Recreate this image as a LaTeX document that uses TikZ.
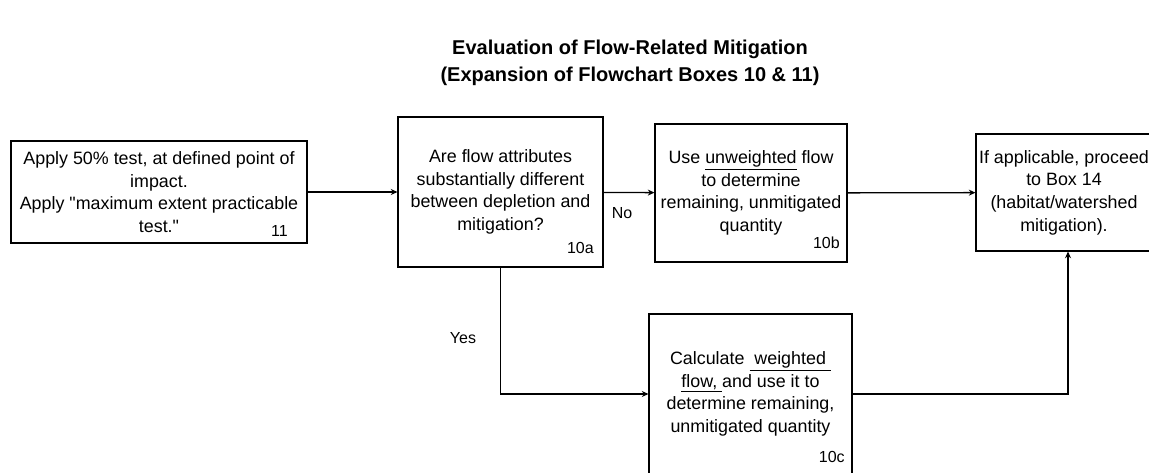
\documentclass[tikz,border=0pt]{standalone}
\usepackage{fontspec}
\setmainfont{Liberation Sans}[Ligatures=TeXOff]
\usetikzlibrary{arrows.meta}

\begin{document}
\begin{tikzpicture}[
x=0.75pt, y=-0.75pt,
font=\fontsize{13.4}{17}\selectfont,
stepbox/.style={draw, line width=0.8pt, align=center, inner sep=0pt},
num/.style={font=\fontsize{12}{14}\selectfont, anchor=base east, inner sep=0pt},
lbl/.style={font=\fontsize{12}{14}\selectfont},
arrow/.style={-{Stealth[length=5pt,width=4.5pt]}, line width=1pt}
]
\clip (0,0) rectangle (1149,472);

\node (title) [font=\bfseries\fontsize{15}{20}\selectfont, align=center] at (630,63) {Evaluation of Flow-Related Mitigation\\(Expansion of Flowchart Boxes 10 \& 11)};

\node (b11) [stepbox, minimum width=222pt, minimum height=76.5pt] at (159,192) {Apply 50\% test, at defined point of\\impact.\\Apply "maximum extent practicable\\test."};
\node (b10a) [stepbox, minimum width=153.75pt, minimum height=112.5pt] at (500.5,192) {Are flow attributes\\substantially different\\between depletion and\\mitigation?};
\node (b10b) [stepbox, minimum width=144pt, minimum height=103.5pt] at (751,193) {Use \underline{unweighted} flow\\to determine\\remaining, unmitigated\\quantity};
\node (b14) [stepbox, minimum width=132pt, minimum height=87.75pt] at (1064,192.5) {If applicable, proceed\\to Box 14\\(habitat/watershed\\mitigation).};
\node (b10c) [stepbox, minimum width=152.25pt, minimum height=120pt] at (750.5,394) {Calculate \underline{\ weighted\ }\\\underline{flow,\ }and use it to\\determine remaining,\\unmitigated quantity};

% box numbers
\node (n11) [num] at (288,236) {11};
\node (n10a) [num] at (594,253) {10a};
\node (n10b) [num] at (840,248) {10b};
\node (n10c) [num] at (845,462) {10c};

\draw[arrow] (b11) -- (b10a);
\draw[arrow] (b10a) -- (b10b);
\draw[arrow] (b10b) -- (b14);
\draw[arrow] (b10a.south) |- (b10c.west);
\draw[arrow] (b10c.east) -| ([xshift=3pt]b14.south);

\node (no) [lbl] at (622,213) {No};
\node (yes) [lbl] at (463,338) {Yes};
\end{tikzpicture}
\end{document}
